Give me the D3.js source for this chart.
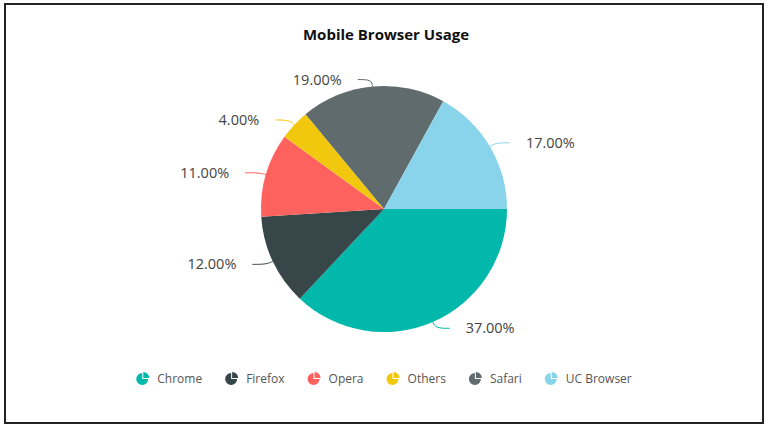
<!DOCTYPE html>
<html>
<head>
<meta charset="utf-8">
<script src="https://cdn.jsdelivr.net/npm/d3@7"></script>
<style>
  body { margin: 0; background: #fff; }
  svg { display: block; font-family: "Open Sans", "Noto Sans", sans-serif; }
</style>
</head>
<body>
<svg id="chart" width="768" height="428"></svg>
<script>
// chart data
var browsers = ["Chrome", "Firefox", "Opera", "Others", "Safari", "UC Browser"];
var shares = [37, 12, 11, 4, 19, 17];
var colors = ["#01B8AA", "#374649", "#FD625E", "#F2C80F", "#5F6B6D", "#8AD4EB"];

var svg = d3.select("#chart");
var cx = 384, cy = 209, r = 123;

// frame round the whole picture
svg.append("rect")
  .attr("x", 5).attr("y", 4)
  .attr("width", 758).attr("height", 419)
  .attr("fill", "none")
  .attr("stroke", "#222")
  .attr("stroke-width", 2);

svg.append("text")
  .attr("x", 386).attr("y", 40)
  .attr("text-anchor", "middle")
  .attr("font-size", 15)
  .attr("font-weight", "bold")
  .attr("fill", "#111")
  .text("Mobile Browser Usage");

var color = d3.scaleOrdinal().domain(browsers).range(colors);

var rows = browsers.map(function(b, i) { return { name: b, value: shares[i] }; });

var pie = d3.pie()
  .value(function(d) { return d.value; })
  .sort(null)
  .startAngle(Math.PI / 2)
  .endAngle(Math.PI / 2 + 2 * Math.PI);

var arcs = pie(rows);
var arc = d3.arc().innerRadius(0).outerRadius(r);
var total = d3.sum(shares);

var g = svg.append("g").attr("transform", "translate(" + cx + "," + cy + ")");

g.selectAll("path.slice")
  .data(arcs)
  .enter()
  .append("path")
  .attr("class", "slice")
  .attr("d", arc)
  .attr("fill", function(d) { return color(d.data.name); });

// leader lines and labels
var out1 = 7, out2 = 14, gap = 16;
arcs.forEach(function(d) {
  var a = (d.startAngle + d.endAngle) / 2;
  var sx = Math.sin(a), sy = -Math.cos(a);
  var p0 = [sx * r, sy * r];
  var p1 = [sx * (r + out1), sy * (r + out1)];
  var right = sx >= 0;
  var p2 = [p1[0] + (right ? out2 : -out2), p1[1]];
  g.append("path")
    .attr("d", d3.line().curve(d3.curveBasis)([p0, p1, p2]))
    .attr("fill", "none")
    .attr("stroke", color(d.data.name))
    .attr("stroke-width", 1);
  g.append("text")
    .attr("x", p2[0] + (right ? gap : -gap))
    .attr("y", p2[1])
    .attr("dy", "0.35em")
    .attr("text-anchor", right ? "start" : "end")
    .attr("font-size", 14.5)
    .attr("fill", "#444")
    .text(d3.format(".2f")(d.data.value / total * 100) + "%");
});

// legend with small pie icons
var legend = svg.append("g");
var icon = d3.arc().innerRadius(0).outerRadius(6);
var x = 0;
browsers.forEach(function(b) {
  var item = legend.append("g").attr("transform", "translate(" + x + ",0)");
  item.append("path")
    .attr("d", icon({ startAngle: Math.PI / 2, endAngle: 2 * Math.PI }))
    .attr("fill", color(b));
  item.append("path")
    .attr("transform", "translate(1,-1)")
    .attr("d", icon({ startAngle: 0, endAngle: Math.PI / 2 }))
    .attr("fill", color(b));
  var t = item.append("text")
    .attr("x", 15).attr("y", 0)
    .attr("dy", "0.35em")
    .attr("font-size", 12)
    .attr("fill", "#555")
    .text(b);
  x += 15 + t.node().getComputedTextLength() + 29;
});
var lw = x - 29 + 6;
legend.attr("transform", "translate(" + (384 - lw / 2 + 6) + ",379)");
</script>
</body>
</html>
